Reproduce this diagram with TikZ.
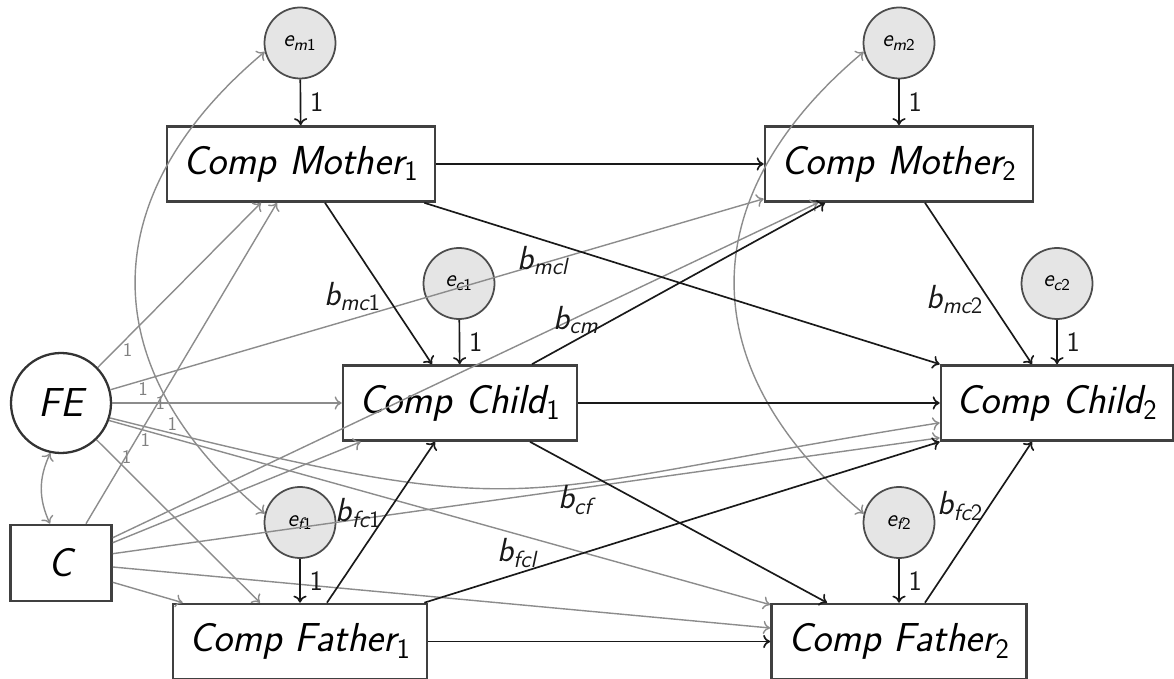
\documentclass[tikz,border=0pt]{standalone}
\usepackage{tikz}
\usetikzlibrary{arrows.meta}

\newcommand{\lsub}[1]{\textsubscript{\upshape #1}}
\newcommand{\coef}[2]{b\textsubscript{#1\upshape #2}}
\newcommand{\err}[2]{e\textsubscript{#1\upshape #2}}

\begin{document}
\begin{tikzpicture}[
obs/.style={draw=black!75,line width=1.5pt,minimum height=1.5cm,inner xsep=2pt,font=\fontsize{23}{27}\selectfont\sffamily\itshape},
lat/.style={circle,draw=black!80,line width=1.3pt,minimum size=2cm,inner sep=0pt,font=\fontsize{23}{27}\selectfont\sffamily\itshape},
res/.style={circle,draw=black!70,fill=black!10,line width=1pt,minimum size=1.42cm,inner sep=0pt,font=\fontsize{13.5}{15}\selectfont\sffamily\itshape},
arrow/.style={-{To[length=4pt,width=7.5pt]},line width=0.95pt,black!90},
garrow/.style={-{To[length=4pt,width=7.5pt]},line width=0.8pt,black!45},
gboth/.style={{To[length=4pt,width=7.5pt]}-{To[length=4pt,width=7.5pt]},line width=0.8pt,black!45},
coeflabel/.style={font=\fontsize{19}{21}\selectfont\sffamily\itshape,inner sep=3pt},
onelabel/.style={font=\fontsize{16}{18}\selectfont\sffamily,inner sep=5pt},
glabel/.style={font=\fontsize{11}{13}\selectfont\sffamily,text=black!50,inner sep=0pt}]

\useasboundingbox (0,0) rectangle (23.48,-13.58);

\node[lat] (FE) at (1.22,-8.06) {FE};
\node[obs,minimum width=2.02cm,minimum height=1.52cm] (C) at (1.22,-11.26) {C};

\node[res] (EM1) at (6.0,-0.86) {\err{m}{1}};
\node[obs,minimum width=5.36cm] (M1) at (6.02,-3.28) {Comp Mother\lsub{1}};
\node[res] (EM2) at (17.98,-0.86) {\err{m}{2}};
\node[obs,minimum width=5.36cm] (M2) at (17.98,-3.28) {Comp Mother\lsub{2}};

\node[res] (EC1) at (9.18,-5.67) {\err{c}{1}};
\node[obs,minimum width=4.68cm] (K1) at (9.2,-8.06) {Comp Child\lsub{1}};
\node[res] (EC2) at (21.14,-5.67) {\err{c}{2}};
\node[obs,minimum width=4.64cm] (K2) at (21.14,-8.06) {Comp Child\lsub{2}};

\node[res] (EF1) at (6.0,-10.45) {\err{f}{1}};
\node[obs,minimum width=5.08cm] (F1) at (6.0,-12.83) {Comp Father\lsub{1}};
\node[res] (EF2) at (17.98,-10.45) {\err{f}{2}};
\node[obs,minimum width=5.1cm] (F2) at (17.98,-12.83) {Comp Father\lsub{2}};

\draw[garrow] (FE.44) -- node[glabel,pos=0.15,below right] {1} ([xshift=-0.8cm]M1.south);
\draw[garrow] (FE.15) -- node[glabel,pos=0.05,below=1pt] {1} ([yshift=0.08cm]M2.south west);
\draw[garrow] (FE.east) -- node[glabel,pos=0.21] {1} (K1.west);
\draw[garrow] (FE.-17) to[out=-14,in=189,looseness=1.4] node[glabel,pos=0.05,above=1pt] {1} ([yshift=0.38cm]K2.south west);
\draw[garrow] (FE.-20) -- node[glabel,pos=0.055,below=1pt] {1} ([yshift=-0.04cm]F2.north west);
\draw[garrow] (FE.-46) -- node[glabel,pos=0.15,above right] {1} ([xshift=-0.8cm]F1.north);

\draw[gboth] ([xshift=-0.22cm]C.north) to[bend left=25] (FE.-102);
\draw[garrow] ([xshift=0.5cm]C.north) -- ([xshift=-0.48cm]M1.south);
\draw[garrow] ([yshift=-0.28cm]C.north east) -- ([xshift=-1.62cm]M2.south);
\draw[garrow] ([yshift=-0.38cm]C.north east) -- ([xshift=0.38cm]K1.south west);
\draw[garrow] ([yshift=-0.6cm]C.north east) -- ([yshift=0.08cm]K2.south west);
\draw[garrow] ([yshift=-0.08cm]C.east) -- ([yshift=0.27cm]F2.west);
\draw[garrow] ([yshift=0.4cm]C.south east) -- ([xshift=0.22cm]F1.north west);

\draw[gboth] (EM1.194) to[out=220,in=140,looseness=1.25] (EF1.166);
\draw[gboth] (EM2.194) to[out=220,in=140,looseness=1.25] (EF2.166);

\draw[arrow] (EM1) -- node[onelabel,right] {1} (M1);
\draw[arrow] (EM2) -- node[onelabel,right] {1} (M2);
\draw[arrow] (EC1) -- node[onelabel,right] {1} (K1);
\draw[arrow] (EC2) -- node[onelabel,right] {1} (K2);
\draw[arrow] (EF1) -- node[onelabel,right] {1} (F1);
\draw[arrow] (EF2) -- node[onelabel,right] {1} (F2);

\draw[arrow] (M1) -- (M2);
\draw[arrow] (K1) -- (K2);
\draw[arrow] (F1) -- (F2);

\draw[arrow] ([xshift=0.48cm]M1.south) -- node[coeflabel,pos=0.58,left] {\coef{mc}{1}} ([xshift=-0.56cm]K1.north);
\draw[arrow] ([xshift=-0.24cm]M1.south east) -- node[coeflabel,pos=0.23,below] {\coef{mcl}{}} (K2.north west);
\draw[arrow] ([xshift=1.44cm]K1.north) -- node[coeflabel,pos=0.15,above] {\coef{cm}{}} ([xshift=-1.48cm]M2.south);
\draw[arrow] ([xshift=1.4cm]K1.south) -- node[coeflabel,pos=0.23,below left] {\coef{cf}{}} ([xshift=-1.44cm]F2.north);
\draw[arrow] ([xshift=0.54cm]F1.north) -- node[coeflabel,pos=0.56,left] {\coef{fc}{1}} ([xshift=-0.5cm]K1.south);
\draw[arrow] ([xshift=-0.08cm]F1.north east) -- node[coeflabel,pos=0.18,above] {\coef{fcl}{}} (K2.south west);
\draw[arrow] ([xshift=0.52cm]M2.south) -- node[coeflabel,pos=0.6,left] {\coef{mc}{2}} ([xshift=-0.5cm]K2.north);
\draw[arrow] ([xshift=0.52cm]F2.north) -- node[coeflabel,pos=0.6,left] {\coef{fc}{2}} ([xshift=-0.5cm]K2.south);

\end{tikzpicture}
\end{document}
